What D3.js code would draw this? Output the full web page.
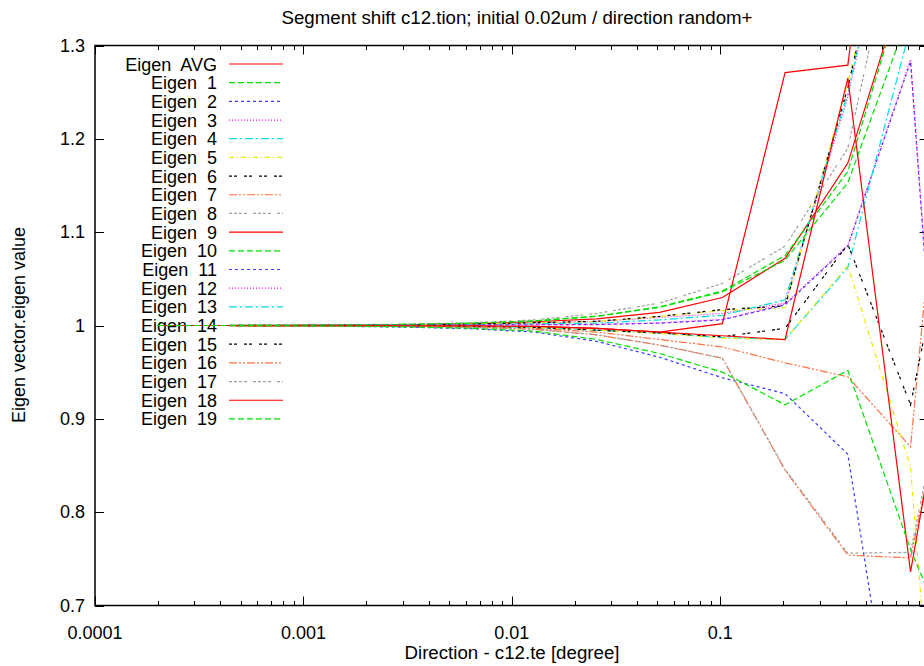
<!DOCTYPE html>
<html>
<head>
<meta charset="utf-8">
<script src="https://cdn.jsdelivr.net/npm/d3@7"></script>
<style>
  body { margin: 0; background: #fff; }
  svg { display: block; }
  text { font-family: "Liberation Sans", Arial, sans-serif; fill: #000; }
</style>
</head>
<body>
<svg id="chart" width="924" height="666"></svg>
<script>
// x values (degree), doubling steps
const directions = [0.0002, 0.0004, 0.0008, 0.0016, 0.0032, 0.0064, 0.0128, 0.0256, 0.0512, 0.1024, 0.2048, 0.4096, 0.8192, 1.6384];

const eigenAvg = [1, 1, 1.0001, 1.0005, 1.0010, 1.0020, 1.0040, 1.0070, 1.0140, 1.0300, 1.0720, 1.1740, 1.3900, 1.80];
const eigen1   = [1, 1, 1.0002, 1.0006, 1.0012, 1.0025, 1.0050, 1.0100, 1.0200, 1.0370, 1.0750, 1.1650, 1.3880, 1.80];
const eigen2   = [1, 1, 0.9998, 0.9991, 0.9982, 0.9965, 0.9930, 0.9830, 0.9660, 0.9440, 0.9270, 0.8620, 0.4400, 0.30];
const eigen3   = [1, 1, 1.0001, 1.0003, 1.0007, 1.0013, 1.0025, 1.0045, 1.0085, 1.0130, 1.0240, 1.2450, 1.5500, 2.00];
const eigen4   = [1, 1, 1.0001, 1.0002, 1.0005, 1.0010, 1.0020, 1.0025, 1.0060, 1.0110, 1.0275, 1.2490, 1.5500, 2.00];
const eigen5   = [1, 1, 1.0001, 1.0004, 1.0008, 1.0015, 1.0030, 1.0043, 1.0096, 1.0160, 1.0190, 1.2600, 1.5500, 2.00];
const eigen6   = [1, 1, 1.0001, 1.0004, 1.0008, 1.0015, 1.0030, 1.0045, 1.0098, 1.0170, 1.0210, 1.2550, 1.5500, 2.00];
const eigen7   = [1, 1, 0.9999, 0.9996, 0.9993, 0.9985, 0.9970, 0.9930, 0.9850, 0.9770, 0.9600, 0.9450, 0.8700, 1.58];
const eigen8   = [1, 1, 1.0002, 1.0008, 1.0015, 1.0030, 1.0060, 1.0130, 1.0240, 1.0450, 1.0850, 1.1900, 1.5000, 2.00];
const eigen9   = [1, 1, 0.9999, 0.9998, 0.9997, 0.9995, 0.9990, 0.9970, 0.9930, 1.0020, 1.2710, 1.2790, 1.8000, 2.00];
const eigen10  = [1, 1, 1.0002, 1.0006, 1.0012, 1.0024, 1.0048, 1.0098, 1.0195, 1.0360, 1.0700, 1.1530, 1.3380, 1.80];
const eigen11  = [1, 1, 1, 1.0001, 1.0002, 1.0005, 1.0008, 1.0010, 1.0025, 1.0060, 1.0220, 1.0850, 1.2830, 0.35];
const eigen12  = [1, 1, 1, 1.0001, 1.0002, 1.0005, 1.0008, 1.0012, 1.0028, 1.0065, 1.0230, 1.0860, 1.2850, 0.37];
const eigen13  = [1, 1, 0.9999, 0.9997, 0.9995, 0.9990, 0.9980, 0.9950, 0.9920, 0.9870, 0.9850, 1.0620, 1.3200, 2.00];
const eigen14  = [1, 1, 0.9999, 0.9997, 0.9995, 0.9990, 0.9980, 0.9950, 0.9915, 0.9865, 0.9850, 1.0640, 0.8480, 0.00];
const eigen15  = [1, 1, 0.9999, 0.9997, 0.9995, 0.9990, 0.9980, 0.9950, 0.9920, 0.9880, 0.9970, 1.0870, 0.9150, 1.25];
const eigen16  = [1, 1, 0.9999, 0.9995, 0.9990, 0.9980, 0.9960, 0.9900, 0.9790, 0.9650, 0.8450, 0.7540, 0.7510, 1.07];
const eigen17  = [1, 1, 0.9999, 0.9995, 0.9990, 0.9980, 0.9960, 0.9900, 0.9790, 0.9650, 0.8460, 0.7560, 0.7570, 1.09];
const eigen18  = [1, 1, 0.9999, 0.9998, 0.9997, 0.9995, 0.9990, 0.9970, 0.9930, 0.9890, 0.9850, 1.2650, 0.7360, 1.12];
const eigen19  = [1, 1, 0.9998, 0.9994, 0.9985, 0.9970, 0.9940, 0.9850, 0.9700, 0.9500, 0.9150, 0.9520, 0.7600, 0.60];

const seriesNames = ['Eigen  AVG', 'Eigen  1', 'Eigen  2', 'Eigen  3', 'Eigen  4', 'Eigen  5', 'Eigen  6',
  'Eigen  7', 'Eigen  8', 'Eigen  9', 'Eigen  10', 'Eigen  11', 'Eigen  12', 'Eigen  13', 'Eigen  14',
  'Eigen  15', 'Eigen  16', 'Eigen  17', 'Eigen  18', 'Eigen  19'];
const seriesValues = [eigenAvg, eigen1, eigen2, eigen3, eigen4, eigen5, eigen6, eigen7, eigen8, eigen9,
  eigen10, eigen11, eigen12, eigen13, eigen14, eigen15, eigen16, eigen17, eigen18, eigen19];

const xTickValues = [0.0001, 0.001, 0.01, 0.1];
const xTickLabels = ['0.0001', '0.001', '0.01', '0.1'];
const yTickValues = [0.7, 0.8, 0.9, 1.0, 1.1, 1.2, 1.3];
const yTickLabels = ['0.7', '0.8', '0.9', '1', '1.1', '1.2', '1.3'];

// gnuplot line type cycle
const colors = ['#ff0000', '#00e000', '#3c3cff', '#ff00ff', '#00e0e0', '#eaea00', '#000000', '#ff7040', '#a0a0a0'];
const dashes = [null, '6,3', '3,3', '1,2', '8,3,2,3', '5,3,1,3', '3,2,3,7', '8,2,2,2,2,2', '3,2,3,2,3,2,3,6'];

const svg = d3.select('#chart');
const margin = { top: 45.5, left: 95, bottom: 605.5, right: 928.6 };

const x = d3.scaleLog().domain([0.0001, 1]).range([margin.left, margin.right]);
const y = d3.scaleLinear().domain([0.7, 1.3]).range([margin.bottom, margin.top]);

svg.append('defs').append('clipPath').attr('id', 'plotClip')
  .append('rect')
  .attr('x', margin.left).attr('y', margin.top)
  .attr('width', margin.right - margin.left).attr('height', margin.bottom - margin.top);

// title and axis labels
svg.append('text').attr('x', 517).attr('y', 24).attr('text-anchor', 'middle')
  .style('font-size', '18.7px').text('Segment shift c12.tion; initial 0.02um / direction random+');
svg.append('text').attr('x', 512).attr('y', 659).attr('text-anchor', 'middle')
  .style('font-size', '18.7px').text('Direction - c12.te [degree]');
svg.append('text').attr('transform', 'translate(25,325) rotate(-90)').attr('text-anchor', 'middle')
  .style('font-size', '18px').text('Eigen vector.eigen value');

// ticks
const tickG = svg.append('g').attr('stroke', '#000').attr('stroke-width', 1);
x.ticks().forEach(v => {
  const major = Math.abs(Math.log10(v) - Math.round(Math.log10(v))) < 1e-9;
  const len = major ? 9 : 4.5;
  const px = Math.round(x(v)) + 0.5;
  tickG.append('line').attr('x1', px).attr('x2', px).attr('y1', margin.bottom).attr('y2', margin.bottom - len);
  tickG.append('line').attr('x1', px).attr('x2', px).attr('y1', margin.top).attr('y2', margin.top + len);
});
yTickValues.forEach(v => {
  const py = Math.round(y(v)) + 0.5;
  tickG.append('line').attr('x1', margin.left).attr('x2', margin.left + 9).attr('y1', py).attr('y2', py);
  tickG.append('line').attr('x1', margin.right).attr('x2', margin.right - 9).attr('y1', py).attr('y2', py);
});

svg.append('g').selectAll('text').data(xTickValues).join('text')
  .attr('x', d => x(d)).attr('y', 639).attr('text-anchor', 'middle')
  .style('font-size', '18px').text((d, i) => xTickLabels[i]);
svg.append('g').selectAll('text').data(yTickValues).join('text')
  .attr('x', 85).attr('y', d => y(d) + 6).attr('text-anchor', 'end')
  .style('font-size', '18px').text((d, i) => yTickLabels[i]);

// border
svg.append('rect')
  .attr('x', margin.left).attr('y', margin.top)
  .attr('width', margin.right - margin.left).attr('height', margin.bottom - margin.top)
  .attr('fill', 'none').attr('stroke', '#000').attr('stroke-width', 1.5);

// legend
const legend = svg.append('g');
seriesNames.forEach((name, i) => {
  const ly = 64 + i * 18.68;
  legend.append('text').attr('x', 217).attr('y', ly + 6.5).attr('text-anchor', 'end')
    .style('font-size', '18px').style('white-space', 'pre').text(name);
  legend.append('line').attr('x1', 229).attr('x2', 283).attr('y1', ly).attr('y2', ly)
    .attr('stroke', colors[i % 9]).attr('stroke-width', 1.2)
    .attr('stroke-dasharray', dashes[i % 9]);
});

// curves
const line = d3.line().x(d => x(d[0])).y(d => y(d[1]));
const plot = svg.append('g').attr('clip-path', 'url(#plotClip)');
seriesValues.forEach((vals, i) => {
  plot.append('path')
    .datum(directions.map((d, j) => [d, vals[j]]))
    .attr('d', line)
    .attr('fill', 'none')
    .attr('stroke', colors[i % 9]).attr('stroke-width', 1.2)
    .attr('stroke-dasharray', dashes[i % 9]);
});
</script>
</body>
</html>
